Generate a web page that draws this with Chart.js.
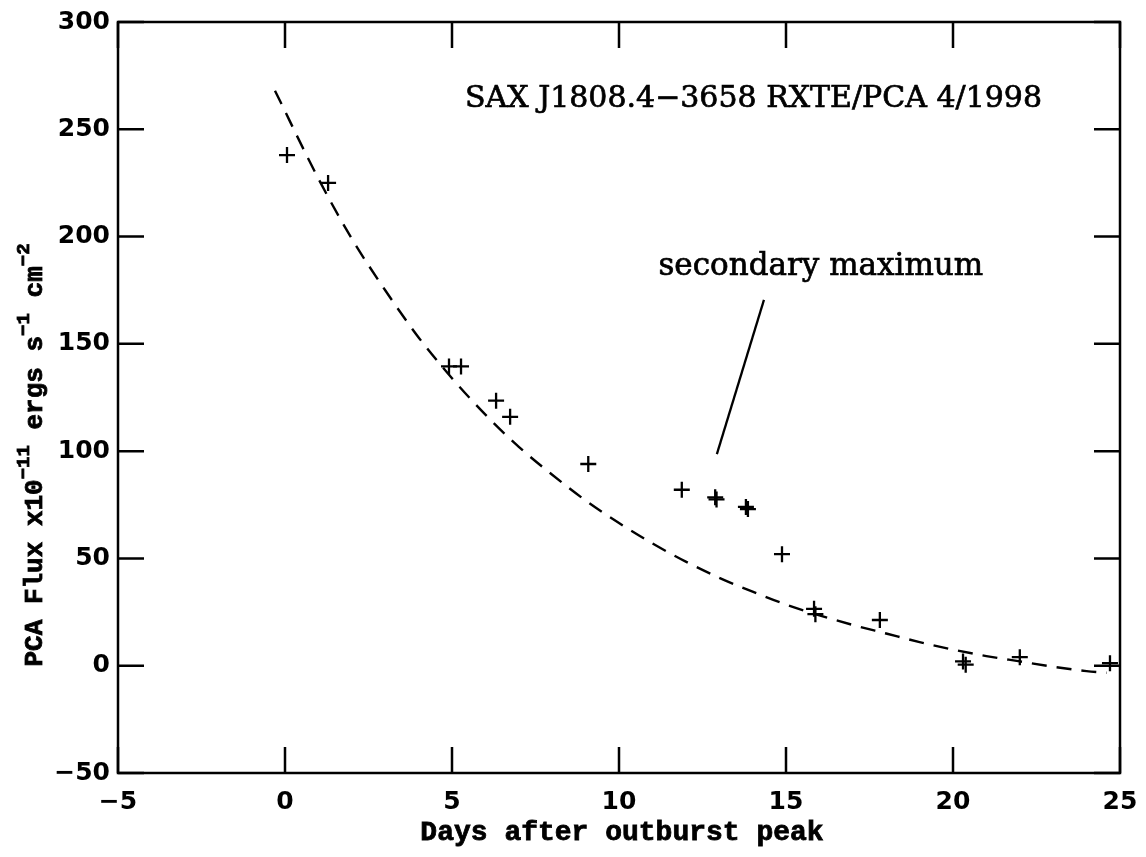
<!DOCTYPE html>
<html>
<head>
<meta charset="utf-8">
<script src="https://cdn.jsdelivr.net/npm/chart.js@4"></script>
<style>
  body { margin: 0; background: #fff; }
</style>
</head>
<body>
<canvas id="fluxChart" width="1146" height="857"></canvas>
<script>
// Measured flux (crosses)
const dayValues = [0.06, 1.29, 4.91, 5.27, 6.32, 6.74, 9.08, 11.88, 12.88, 12.92, 13.80, 13.86, 14.88, 15.84, 15.88, 17.81, 20.30, 20.38, 22.0, 24.7];
const fluxValues = [238, 225, 139.5, 139.5, 123.5, 116, 94, 82, 78.5, 77.5, 74, 73, 52, 26.5, 24, 21.3, 2, 0.5, 4, 1.2];

// Dashed decay curve
const curveDays = [-0.3, 1, 2, 3, 4, 5, 6, 7, 8, 9, 10, 11, 12, 13, 14, 15, 16, 17, 18, 19, 20, 21, 22, 23, 24, 24.6];
const curveFlux = [268, 227, 199, 175, 153, 134, 117, 102, 89, 77, 66.5, 57, 48.5, 41, 34.5, 28.5, 23.5, 19, 15, 11, 7.5, 4.5, 2, -0.5, -2.5, -3.3];

// Pointer line for the label
const pointerDays = [14.34, 12.93];
const pointerFlux = [170.5, 98.6];

// Axis ticks
const xTicks = [-5, 0, 5, 10, 15, 20, 25];
const yTicks = [-50, 0, 50, 100, 150, 200, 250, 300];

const titleText = 'SAX J1808.4\u22123658 RXTE/PCA 4/1998';
const noteText = 'secondary maximum';
const xTitle = 'Days after outburst peak';

const serif = '"DejaVu Serif", serif';
const sans = '"DejaVu Sans", sans-serif';
const mono = '"Liberation Mono", monospace';

function toPoints(xs, ys) {
  return xs.map((x, i) => ({ x: x, y: ys[i] }));
}

function minus(v) {
  return v < 0 ? '\u2212' + Math.abs(v) : String(v);
}

// frame, inward ticks, texts
const decorations = {
  id: 'decorations',
  afterDraw(chart) {
    const ctx = chart.ctx;
    const a = chart.chartArea;
    const xs = chart.scales.x;
    const ys = chart.scales.y;
    const len = 26;
    ctx.save();
    ctx.strokeStyle = '#000';
    ctx.lineWidth = 2.5;
    ctx.strokeRect(a.left, a.top, a.right - a.left, a.bottom - a.top);
    ctx.beginPath();
    xTicks.forEach(v => {
      const px = xs.getPixelForValue(v);
      ctx.moveTo(px, a.bottom); ctx.lineTo(px, a.bottom - len);
      ctx.moveTo(px, a.top); ctx.lineTo(px, a.top + len);
    });
    yTicks.forEach(v => {
      const py = ys.getPixelForValue(v);
      ctx.moveTo(a.left, py); ctx.lineTo(a.left + len, py);
      ctx.moveTo(a.right, py); ctx.lineTo(a.right - len, py);
    });
    ctx.stroke();

    ctx.fillStyle = '#000';
    ctx.textBaseline = 'alphabetic';
    ctx.textAlign = 'left';
    ctx.lineWidth = 0.7;
    ctx.font = '30px ' + serif;
    let x0 = xs.getPixelForValue(5.39), y0 = ys.getPixelForValue(260.5);
    ctx.fillText(titleText, x0, y0);
    ctx.strokeText(titleText, x0, y0);
    ctx.font = '31px ' + serif;
    x0 = xs.getPixelForValue(11.18); y0 = ys.getPixelForValue(182);
    ctx.fillText(noteText, x0, y0);
    ctx.strokeText(noteText, x0, y0);

    ctx.textAlign = 'center';
    ctx.lineWidth = 0.8;
    ctx.font = 'bold 28px ' + mono;
    ctx.fillText(xTitle, 622, 840);
    ctx.strokeText(xTitle, 622, 840);

    // y title with superscripts
    const parts = [
      ['PCA Flux x10', false], ['\u221211', true], [' ergs s', false],
      ['\u22121', true], [' cm', false], ['\u22122', true]
    ];
    const big = 'bold 26px ' + mono;
    const small = 'bold 19px ' + mono;
    let total = 0;
    parts.forEach(p => { ctx.font = p[1] ? small : big; total += ctx.measureText(p[0]).width; });
    ctx.translate(42, 455);
    ctx.rotate(-Math.PI / 2);
    ctx.textAlign = 'left';
    let cx = -total / 2;
    parts.forEach(p => {
      ctx.font = p[1] ? small : big;
      const dy = p[1] ? -13 : 0;
      ctx.fillText(p[0], cx, dy);
      ctx.strokeText(p[0], cx, dy);
      cx += ctx.measureText(p[0]).width;
    });
    ctx.restore();
  }
};

new Chart(document.getElementById('fluxChart'), {
  type: 'scatter',
  data: {
    datasets: [{
      label: 'PCA flux',
      data: toPoints(dayValues, fluxValues),
      pointStyle: 'cross',
      pointRadius: 8,
      pointBorderWidth: 2.3,
      borderColor: '#000',
      backgroundColor: '#000',
      showLine: false
    }, {
      label: 'decay',
      data: toPoints(curveDays, curveFlux),
      showLine: true,
      borderColor: '#000',
      borderWidth: 2.4,
      borderDash: [15, 10],
      pointRadius: 0,
      cubicInterpolationMode: 'monotone',
      fill: false
    }, {
      label: 'pointer',
      data: toPoints(pointerDays, pointerFlux),
      showLine: true,
      borderColor: '#000',
      borderWidth: 2.3,
      pointRadius: 0,
      fill: false
    }]
  },
  options: {
    responsive: false,
    animation: false,
    layout: { padding: { top: 22, right: 26, left: 0, bottom: 0 } },
    plugins: {
      legend: { display: false },
      tooltip: { enabled: false }
    },
    scales: {
      x: {
        type: 'linear',
        min: -5,
        max: 25,
        afterFit(scale) {
          scale.height = 84;
          scale.paddingLeft = 0;
          scale.paddingRight = 0;
        },
        afterBuildTicks(scale) { scale.ticks = xTicks.map(v => ({ value: v })); },
        grid: { display: false, drawTicks: false },
        border: { display: false },
        ticks: {
          color: '#000',
          font: { family: sans, size: 25, weight: 'bold' },
          padding: 14,
          maxRotation: 0,
          callback: v => minus(v)
        }
      },
      y: {
        type: 'linear',
        min: -50,
        max: 300,
        afterFit(scale) {
          scale.width = 118;
          scale.paddingTop = 0;
          scale.paddingBottom = 0;
        },
        afterBuildTicks(scale) { scale.ticks = yTicks.map(v => ({ value: v })); },
        grid: { display: false, drawTicks: false },
        border: { display: false },
        ticks: {
          color: '#000',
          font: { family: sans, size: 25, weight: 'bold' },
          padding: 8,
          callback: v => minus(v)
        }
      }
    }
  },
  plugins: [decorations]
});
</script>
</body>
</html>
